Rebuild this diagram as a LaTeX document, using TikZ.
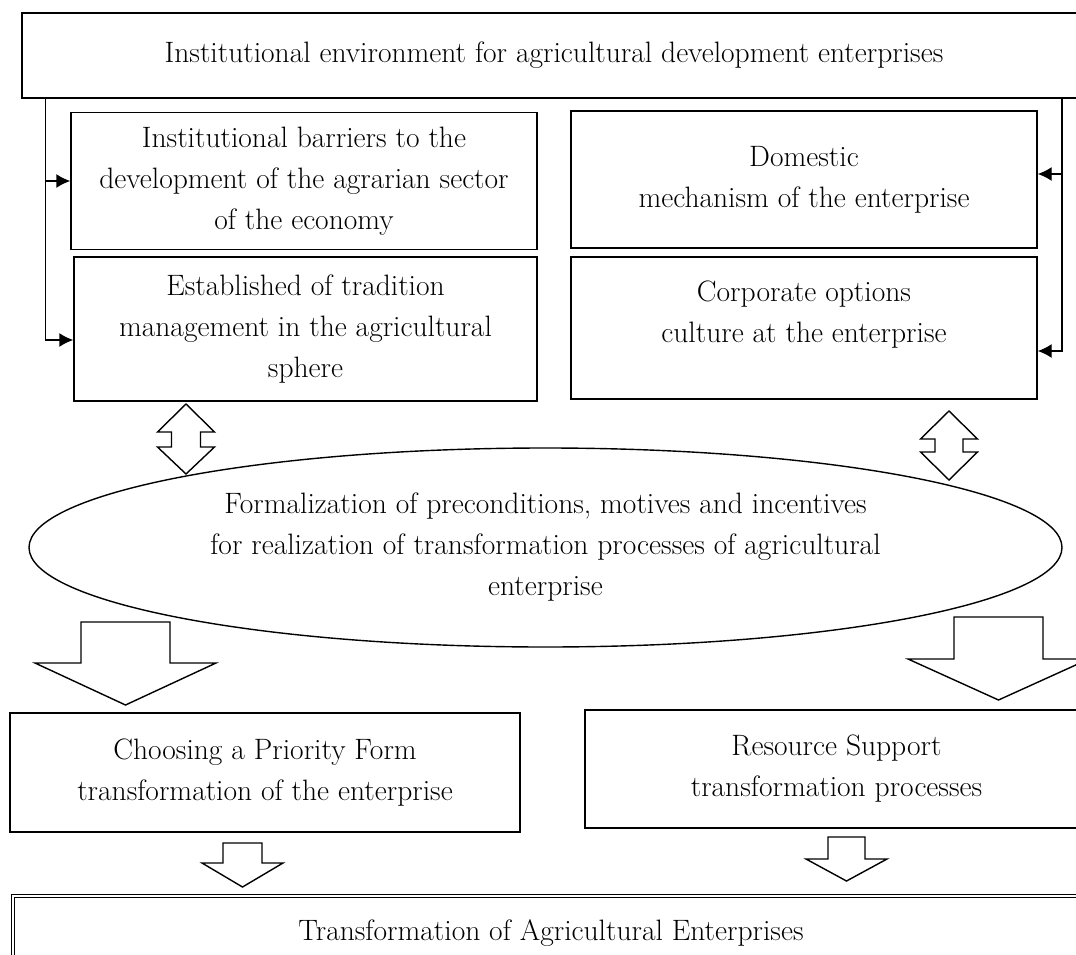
\documentclass[tikz,border=0pt]{standalone}
\usetikzlibrary{shapes.geometric,arrows.meta,calc}
\tikzset{>={Latex[length=14pt,width=14pt]}}
\tikzset{
  box/.style={draw,line width=1.4pt,align=center,inner sep=0pt,font=\fontsize{29.5}{41}\selectfont},
  dbox/.style={box,double,double distance=1.6pt,line width=0.9pt},
  hollow/.style={draw,line width=1.4pt,fill=white,line join=miter},
  conn/.style={->,line width=1.4pt},
}

\begin{document}
\begin{tikzpicture}[x=1pt,y=-1pt]
  \useasboundingbox (0,0) rectangle (1076,955);
  \clip (0,0) rectangle (1076,955);

  \node[box,minimum width=1064,minimum height=85] (env) at (554,55.5) {Institutional environment for agricultural development enterprises};
  \node[box,minimum width=466,minimum height=137] (barriers) at (304,181) {Institutional barriers to the\\development of the agrarian sector\\of the economy};
  \node[box,minimum width=466,minimum height=137] (domestic) at (804,179.5) {Domestic\\mechanism of the enterprise};
  \node[box,minimum width=463,minimum height=144] (tradition) at (305.5,329) {Established of tradition\\management in the agricultural\\sphere};
  \node[box,minimum width=466,minimum height=142] (corporate) at (804,328) {};
  \node[box,draw=none] at (804,315) {Corporate options\\culture at the enterprise};

  \node[box,ellipse,minimum width=1033,minimum height=199] (motives) at (545.5,547.5) {Formalization of preconditions, motives and incentives\\for realization of transformation processes of agricultural\\enterprise};

  \node[box,minimum width=510,minimum height=119] (priority) at (265,772.5) {Choosing a Priority Form\\transformation of the enterprise};
  \node[box,minimum width=503,minimum height=118] (resource) at (836.5,769) {Resource Support\\transformation processes};
  \node[dbox,minimum width=1076,minimum height=74] (result) at (551,933) {Transformation of Agricultural Enterprises};

  % links from the environment
  \coordinate (ltap) at (45.5,98);
  \coordinate (rtap) at (1062,98);
  \coordinate (dtap) at ([yshift=5.5pt]domestic.east);
  \draw[conn] (ltap) |- ([yshift=-11pt]tradition.west);
  \draw[conn] (ltap |- barriers.west) -- (barriers.west);
  \draw[conn] (rtap) |- ([yshift=-23pt]corporate.east);
  \draw[conn] (rtap |- dtap) -- (dtap);

  % block arrows
  \draw[hollow] (186,404) -- (214.5,432) -- (200.5,432) -- (200.5,447) -- (214.5,447) -- (186,474)
    -- (157.5,447) -- (171.5,447) -- (171.5,432) -- (157.5,432) -- cycle;
  \draw[hollow] (949,411) -- (977.5,439) -- (963,439) -- (963,452) -- (977.5,452) -- (949,480)
    -- (920.5,452) -- (935,452) -- (935,439) -- (920.5,439) -- cycle;
  \draw[hollow] (81,622) -- (170,622) -- (170,663) -- (216,663) -- (125.5,705) -- (35,663) -- (81,663) -- cycle;
  \draw[hollow] (954,617) -- (1043,617) -- (1043,659) -- (1089,659) -- (998.5,700) -- (908,659) -- (954,659) -- cycle;
  \draw[hollow] (223,843) -- (262,843) -- (262,863) -- (283,863) -- (242.5,887) -- (202,863) -- (223,863) -- cycle;
  \draw[hollow] (828,837) -- (865,837) -- (865,859) -- (887,859) -- (846.5,881) -- (806,859) -- (828,859) -- cycle;
\end{tikzpicture}
\end{document}
